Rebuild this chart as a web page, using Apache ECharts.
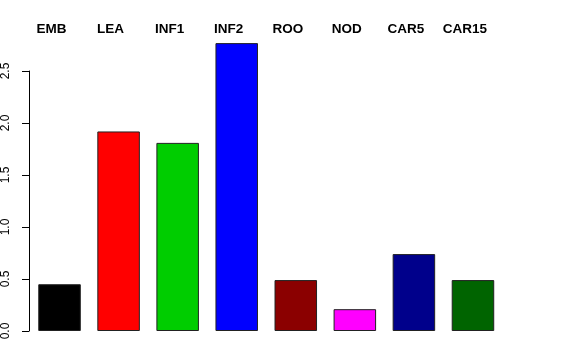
<!DOCTYPE html>
<html><head><meta charset="utf-8">
<script src="https://cdn.jsdelivr.net/npm/echarts@6/dist/echarts.min.js"></script>
<style>html,body{margin:0;padding:0;background:#fff}#c{width:576px;height:360px}</style>
</head><body><div id="c"></div>
<script>
const categories = ['EMB','LEA','INF1','INF2','ROO','NOD','CAR5','CAR15'];
const values = [0.45, 1.92, 1.81, 2.77, 0.49, 0.21, 0.74, 0.49];
const barColors = ['#000000','#FF0000','#00CD00','#0000FF','#8B0000','#FF00FF','#00008B','#006400'];
const yTicks = [0, 0.5, 1.0, 1.5, 2.0, 2.5];

const chart = echarts.init(document.getElementById('c'), null, {renderer:'canvas'});
chart.setOption({
  animation:false,
  backgroundColor:'#fff',
  textStyle:{fontFamily:'Liberation Sans, Arial, sans-serif'},
  grid:[
    {left:30, right:73.5, top:40, bottom:29},
    {left:29, width:10, top:71, bottom:29}
  ],
  xAxis:[
    {gridIndex:0, type:'category', data:categories, position:'top',
     axisLine:{show:false}, axisTick:{show:false},
     axisLabel:{fontWeight:'bold', fontSize:13.5, color:'#000', margin:4, padding:[0,16,0,0],
       fontFamily:'Liberation Sans, Arial, sans-serif'}},
    {gridIndex:1, type:'value', show:false, min:0, max:1}
  ],
  yAxis:[
    {gridIndex:0, type:'value', min:0, max:2.8, show:false},
    {gridIndex:1, type:'value', min:yTicks[0], max:yTicks[yTicks.length-1], interval:0.5,
     axisLine:{show:true, lineStyle:{color:'#000', width:1}},
     axisTick:{show:true, length:7, lineStyle:{color:'#000'}},
     splitLine:{show:false},
     axisLabel:{rotate:90, fontSize:12, color:'#000', margin:17,
       formatter:v=>v.toFixed(1), fontFamily:'Liberation Sans, Arial, sans-serif'}}
  ],
  series:[{
    type:'bar', xAxisIndex:0, yAxisIndex:0, barWidth:'72%',
    data: values.map((v,i)=>({value:v, itemStyle:{color:barColors[i]}})),
    itemStyle:{borderColor:'#222', borderWidth:1}
  }]
});
</script></body></html>
